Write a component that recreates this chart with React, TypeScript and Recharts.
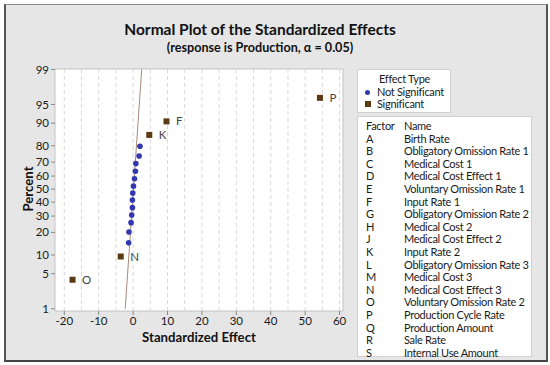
import React from "react";
import {
  ComposedChart,
  Scatter,
  XAxis,
  YAxis,
  CartesianGrid,
  ReferenceLine,
  ReferenceArea,
  LabelList,
} from "recharts";

// ---- data ----
const notSigEffects = [-1.3, -1.2, -0.6, -0.4, -0.2, -0.2, -0.1, 0.1, 0.4, 0.67, 0.8, 1.75, 2.0];
const notSigPercents = [14.8, 20.2, 25.7, 30.7, 35.9, 41.6, 46.9, 52.3, 58, 63.6, 69, 74, 79.8];

const sigNames = ["O", "N", "K", "F", "P"];
const sigEffects = [-17.6, -3.6, 4.7, 9.7, 54.3];
const sigPercents = [3.9, 9.5, 85.4, 90.6, 96.2];

const refLineEffects = [-2.3, 2.5];
const refLinePercents = [1, 99];

const percentTicks = [1, 5, 10, 20, 30, 40, 50, 60, 70, 80, 90, 95, 99];
const effectTicks = [-20, -10, 0, 10, 20, 30, 40, 50, 60];
const effectGrid = [-20, -15, -10, -5, 0, 5, 10, 15, 20, 25, 30, 35, 40, 45, 50, 55, 60];

const factorLetters = ["A", "B", "C", "D", "E", "F", "G", "H", "J", "K", "L", "M", "N", "O", "P", "Q", "R", "S"];
const factorNames = [
  "Birth Rate",
  "Obligatory Omission Rate 1",
  "Medical Cost 1",
  "Medical Cost Effect 1",
  "Voluntary Omission Rate 1",
  "Input Rate 1",
  "Obligatory Omission Rate 2",
  "Medical Cost 2",
  "Medical Cost Effect 2",
  "Input Rate 2",
  "Obligatory Omission Rate 3",
  "Medical Cost 3",
  "Medical Cost Effect 3",
  "Voluntary Omission Rate 2",
  "Production Cycle Rate",
  "Production Amount",
  "Sale Rate",
  "Internal Use Amount",
];

// inverse normal CDF (probability scale of the percent axis)
function probit(p: number): number {
  const a = [-39.69683028665376, 220.9460984245205, -275.9285104469687, 138.357751867269, -30.66479806614716, 2.506628277459239];
  const b = [-54.47609879822406, 161.5858368580409, -155.6989798598866, 66.80131188771972, -13.28068155288572];
  const c = [-0.007784894002430293, -0.3223964580411365, -2.400758277161838, -2.549732539343734, 4.374664141464968, 2.938163982698783];
  const d = [0.007784695709041462, 0.3224671290700398, 2.445134137142996, 3.754408661907416];
  const pl = 0.02425;
  if (p < pl) {
    const q = Math.sqrt(-2 * Math.log(p));
    return (((((c[0] * q + c[1]) * q + c[2]) * q + c[3]) * q + c[4]) * q + c[5]) / ((((d[0] * q + d[1]) * q + d[2]) * q + d[3]) * q + 1);
  }
  if (p > 1 - pl) {
    const q = Math.sqrt(-2 * Math.log(1 - p));
    return -(((((c[0] * q + c[1]) * q + c[2]) * q + c[3]) * q + c[4]) * q + c[5]) / ((((d[0] * q + d[1]) * q + d[2]) * q + d[3]) * q + 1);
  }
  const q = p - 0.5;
  const r = q * q;
  return ((((((a[0] * r + a[1]) * r + a[2]) * r + a[3]) * r + a[4]) * r + a[5]) * q) / (((((b[0] * r + b[1]) * r + b[2]) * r + b[3]) * r + b[4]) * r + 1);
}
const z = (pct: number) => probit(pct / 100);

const notSigData = notSigEffects.map((x, i) => ({ x, y: z(notSigPercents[i]) }));
const sigData = sigEffects.map((x, i) => ({ x, y: z(sigPercents[i]), name: sigNames[i] }));
const refData = refLineEffects.map((x, i) => ({ x, y: z(refLinePercents[i]) }));
const yTicks = percentTicks.map(z);
const tickLabel = (v: number) => {
  let best = percentTicks[0];
  let bd = Infinity;
  percentTicks.forEach((p) => {
    const dd = Math.abs(z(p) - v);
    if (dd < bd) {
      bd = dd;
      best = p;
    }
  });
  return String(best);
};

const FONT = "Lato, 'Noto Sans', sans-serif";
const X_DOMAIN: [number, number] = [-22.7, 61];
const Y_DOMAIN: [number, number] = [-2.37, 2.335];

const Square = (props: any) => (
  <rect x={props.cx - 3} y={props.cy - 3} width={6} height={6} fill="#5a3a12" />
);
const Dot = (props: any) => <circle cx={props.cx} cy={props.cy} r={2.8} fill="#3338b0" />;
const NoShape = () => null;

const rowText: React.CSSProperties = {
  position: "absolute",
  lineHeight: "12px",
  whiteSpace: "nowrap",
  letterSpacing: "-0.3px",
};

export default function App() {
  return (
    <div
      style={{
        position: "fixed",
        left: 0,
        top: 0,
        width: 550,
        height: 365,
        background: "#ffffff",
        fontFamily: FONT,
      }}
    >
      <div
        style={{
          position: "absolute",
          left: 4,
          top: 4,
          width: 540,
          height: 355,
          background: "#e6e6e6",
          borderTop: "1px solid #8a8a8a",
          borderLeft: "2px solid #555",
          borderRight: "2px solid #555",
          borderBottom: "2px solid #444",
        }}
      />
      <div
        style={{
          position: "absolute",
          left: 0,
          top: 0,
          width: 550,
          height: 365,
        }}
      >
        <ComposedChart
          width={550}
          height={365}
          margin={{ top: 69, right: 207, bottom: 24, left: 10 }}
        >
          <ReferenceArea
            x1={X_DOMAIN[0]}
            x2={X_DOMAIN[1]}
            y1={Y_DOMAIN[0]}
            y2={Y_DOMAIN[1]}
            fill="#ffffff"
            fillOpacity={1}
            stroke="#c4c4c4"
            strokeWidth={1}
            ifOverflow="visible"
          />
          <CartesianGrid horizontal vertical={false} stroke="#d9d9d9" strokeDasharray="4 3" />
          {effectGrid.map((g) => (
            <ReferenceLine key={g} x={g} stroke="#d9d9d9" strokeDasharray="4 3" />
          ))}
          <XAxis
            type="number"
            dataKey="x"
            domain={X_DOMAIN}
            ticks={effectTicks}
            interval={0}
            allowDataOverflow
            height={30}
            axisLine={false}
            tickLine={{ stroke: "#888" }}
            tickSize={4}
            tick={{ fill: "#1a1a1a", fontSize: 11.5, fontFamily: FONT }}
          />
          <YAxis
            type="number"
            dataKey="y"
            domain={Y_DOMAIN}
            ticks={yTicks}
            interval={0}
            tickFormatter={tickLabel}
            allowDataOverflow
            width={45}
            axisLine={false}
            tickLine={{ stroke: "#888" }}
            tickSize={4}
            tick={{ fill: "#1a1a1a", fontSize: 11.5, fontFamily: FONT }}
          />
          <Scatter
            data={refData}
            line={{ stroke: "#a88a78", strokeWidth: 1 }}
            shape={NoShape}
            isAnimationActive={false}
          />
          <Scatter data={notSigData} shape={Dot} isAnimationActive={false} />
          <Scatter data={sigData} shape={Square} isAnimationActive={false}>
            <LabelList
              dataKey="name"
              position="right"
              offset={5}
              style={{ fill: "#444", fontSize: 11.5, fontFamily: FONT }}
            />
          </Scatter>
        </ComposedChart>
      </div>

      {/* titles */}
      <div
        style={{
          position: "absolute",
          left: 0,
          width: 520,
          top: 19,
          textAlign: "center",
          fontSize: 15.5,
          fontWeight: 700,
          color: "#111",
          lineHeight: "20px",
        }}
      >
        Normal Plot of the Standardized Effects
      </div>
      <div
        style={{
          position: "absolute",
          left: 0,
          width: 520,
          top: 40,
          textAlign: "center",
          fontSize: 12.6,
          fontWeight: 700,
          color: "#111",
          lineHeight: "16px",
        }}
      >
        (response is Production, α = 0.05)
      </div>
      <div
        style={{
          position: "absolute",
          left: 99,
          width: 200,
          top: 328,
          textAlign: "center",
          fontSize: 13.2,
          fontWeight: 700,
          color: "#111",
          lineHeight: "18px",
        }}
      >
        Standardized Effect
      </div>
      <div
        style={{
          position: "absolute",
          left: 28,
          top: 189,
          width: 0,
          height: 0,
        }}
      >
        <div
          style={{
            position: "absolute",
            left: -50,
            top: -9,
            width: 100,
            textAlign: "center",
            fontSize: 13.2,
            fontWeight: 700,
            lineHeight: "18px",
            color: "#111",
            transform: "rotate(-90deg)",
          }}
        >
          Percent
        </div>
      </div>

      {/* effect type legend */}
      <div
        style={{
          position: "absolute",
          left: 357,
          top: 69,
          width: 92,
          height: 42,
          background: "#fff",
          border: "1px solid #d0d0d0",
          fontSize: 11,
          color: "#1a1a1a",
        }}
      >
        <div style={{ ...rowText, left: 21, top: 3 }}>Effect Type</div>
        <div style={{ position: "absolute", left: 7, top: 20, width: 5, height: 5, borderRadius: 3, background: "#3338b0" }} />
        <div style={{ ...rowText, left: 19, top: 16 }}>Not Significant</div>
        <div style={{ position: "absolute", left: 7, top: 31, width: 6, height: 6, background: "#5a3a12" }} />
        <div style={{ ...rowText, left: 19, top: 28 }}>Significant</div>
      </div>

      {/* factor table */}
      <div
        style={{
          position: "absolute",
          left: 357,
          top: 116,
          width: 173,
          height: 239,
          background: "#fff",
          border: "1px solid #d0d0d0",
          fontSize: 11,
          color: "#1a1a1a",
        }}
      >
        <div style={{ ...rowText, left: 8, top: 3 }}>Factor</div>
        <div style={{ ...rowText, left: 46, top: 3 }}>Name</div>
        {factorLetters.map((f, i) => (
          <React.Fragment key={f}>
            <div style={{ ...rowText, left: 8, top: 15.5 + i * 12.6 }}>{f}</div>
            <div style={{ ...rowText, left: 46, top: 15.5 + i * 12.6 }}>{factorNames[i]}</div>
          </React.Fragment>
        ))}
      </div>
    </div>
  );
}
